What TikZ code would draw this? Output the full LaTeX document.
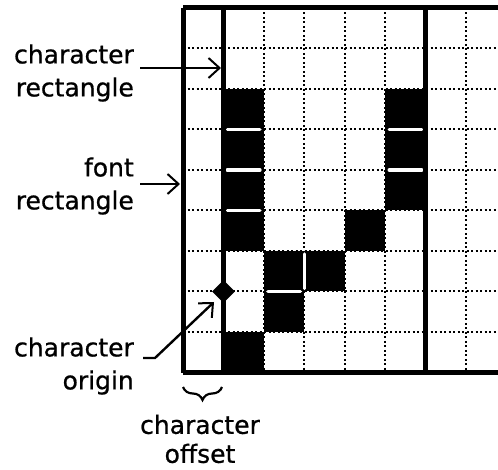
\documentclass[tikz,border=0pt]{standalone}
\usepackage{fontspec}
\setmainfont{DejaVu Sans}
\newfontfamily\lblfont{DejaVu Sans}[FakeBold=0.8]
\usepackage{tikz}
\usetikzlibrary{positioning, calc, shapes.geometric, arrows.meta, decorations.pathreplacing}

\begin{document}
\begin{tikzpicture}[
          x=1pt, y=-1pt,
          lbl/.style={align=right, inner sep=0pt, font=\lblfont\fontsize{25}{33}\selectfont},
          pointer/.style={-{Straight Barb[length=11pt, width=20pt, line width=2pt]}, line width=2.4pt},
          dotline/.style={line width=2pt, dash pattern=on 2pt off 2.5pt},
          heavy/.style={line width=5pt},
          cellfill/.style={fill=black},
          gap/.style={white, line width=3.5pt, line cap=round},
          origindot/.style={diamond, fill=black, minimum width=23pt, minimum height=23pt, inner sep=0pt}
        ]
          \useasboundingbox (0,0) rectangle (498,470);

          % the grid, in cell units
          \begin{scope}
            \clip (0,0) rectangle (498,470);
            \begin{scope}[shift={(183,8)}, x=40.45pt, y=-40.5pt]
              \foreach \r in {1,...,8}
                \draw[dotline] (0,\r) -- (8,\r);
              \foreach \c in {2,3,4,5,7}
                \draw[dotline] (\c,0) -- (\c,9);

              \foreach \c/\r in {1/2,1/3,1/4,1/5,1/8,5/2,5/3,5/4,4/5,2/6,2/7,3/6}
                \fill[cellfill] (\c,\r) rectangle ++(1,1);

              \foreach \c/\r in {1/3,1/4,1/5,5/3,5/4,2/7}
                \draw[gap] ([xshift=4pt]\c,\r) -- ([xshift=-4pt]\c+1,\r);
              \draw[gap] ([yshift=-3pt]3,6) -- ([yshift=3pt]3,7);

              \draw[heavy] (0,0) -- (8,0);
              \draw[heavy] (0,9) -- (8,9);
              \foreach \c in {0,1,6}
                \draw[heavy] (\c,0) -- (\c,9);

              \node[origindot] (orig) at (1,7) {};
            \end{scope}
          \end{scope}

          \coordinate (crtip) at (221,68);
          \coordinate (frtip) at (180,184);
          \coordinate (cotip) at (214,302);
          \coordinate (offl) at (183,387);
          \coordinate (offr) at (222,387);

          \node[lbl, anchor=east] (crlabel) at (134,73) {character\\rectangle};
          \node[lbl, anchor=east] (frlabel) at (134,186) {font\\rectangle};
          \node[lbl, anchor=east] (colabel) at (134,366) {character\\origin};
          \node[lbl, align=center] (oflabel) at (200,439) {character\\[-4pt]offset};

          \draw[pointer] ([xshift=6pt,yshift=5pt]crlabel.east) -- (crtip);
          \draw[pointer] ([xshift=6pt,yshift=2pt]frlabel.east) -- (frtip);
          \draw[pointer] ([xshift=9pt,yshift=8pt]colabel.east) -- ++(12,0) -- (cotip);
          \draw[line width=2.2pt, decorate, decoration={brace, mirror, amplitude=13pt}] (offl) -- (offr);
        \end{tikzpicture}
\end{document}
